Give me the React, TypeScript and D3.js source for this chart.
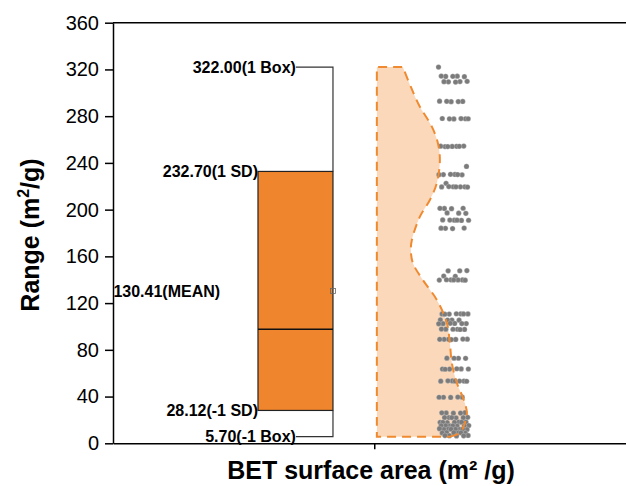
import * as d3 from "d3";
import { useEffect, useRef } from "react";

// y axis ticks
const yTicks = [0, 40, 80, 120, 160, 200, 240, 280, 320, 360];

// box statistics (m2/g)
const statValues = [322.0, 232.7, 130.41, 28.12, 5.7];
const statLabels = ["322.00(1 Box)", "232.70(1 SD)", "130.41(MEAN)", "28.12(-1 SD)", "5.70(-1 Box)"];
const medianValue = 97.6;

// half violin: density read at these levels
const violinLevels = [5.7, 8.8, 17.4, 25.9, 37.1, 51.6, 68.7, 85.9, 103, 122.7, 139.8, 154.3, 165.5, 174, 194, 208.3, 222.8, 242.5, 257, 271, 288.1, 305, 322];
const violinDensity = [0.73, 0.83, 0.88, 0.9, 0.87, 0.8, 0.75, 0.73, 0.7, 0.6, 0.46, 0.36, 0.34, 0.35, 0.43, 0.53, 0.6, 0.63, 0.61, 0.55, 0.43, 0.34, 0.26];

// individual samples
const betPoints = [
  322.0,
  314.2, 314.0, 313.8, 314.1, 314.3,
  309.6, 309.4, 309.8, 309.2, 309.5,
  292.6, 292.4, 292.8, 292.5, 292.7,
  277.8, 277.6, 278.0, 277.9, 277.7, 277.8,
  254.2, 254.0, 254.4, 254.1, 254.3, 254.2, 254.0,
  237.0,
  230.1, 230.0, 229.8, 230.2, 229.9, 230.0,
  222.5,
  219.5, 219.6, 219.4, 219.5, 219.7, 219.3, 219.5,
  201.0, 201.2, 200.8, 201.1,
  197.0, 197.2, 196.8,
  191.0, 191.2, 190.8, 191.1, 190.9, 191.0,
  184.0, 184.2, 183.8, 184.1,
  147.7, 147.6, 147.8,
  143.0, 143.2,
  139.8, 139.9, 139.7, 139.8, 140.0, 139.6, 139.8,
  110.7, 110.8, 110.6, 110.7, 110.9, 110.5, 110.7,
  105.5, 105.6, 105.4, 105.5,
  102.5, 102.6, 102.4, 102.5, 102.7, 102.3,
  97.6, 97.7, 97.5, 97.6, 97.8, 97.4,
  89.0, 89.1, 88.9, 89.0, 89.2, 88.8, 89.0,
  72.8, 72.9, 72.7, 72.8,
  63.6, 63.7, 63.5, 63.6, 63.8, 63.4,
  53.3, 53.4, 53.2, 53.3, 53.5, 53.1, 53.3,
  39.4, 39.5, 39.3, 39.4, 39.6,
  26.0, 26.2, 25.8, 26.1, 25.9,
  22.0, 22.2, 21.8, 22.1, 21.9, 22.0,
  18.0, 18.2, 17.8, 18.1, 17.9, 18.0, 18.1,
  15.0, 15.2, 14.8, 15.1, 14.9, 15.0, 15.1,
  12.0, 12.2, 11.8, 12.1, 11.9, 12.0, 12.1, 12.5,
  9.0, 9.2, 8.8, 9.1, 8.9, 9.0,
  6.5, 6.7, 6.3, 6.6, 6.4,
];

const W = 626;
const H = 486;
const font = "'Liberation Sans', Arial, Helvetica, sans-serif";

export default function App() {
  const svgRef = useRef(null);

  useEffect(() => {
    const svg = d3.select(svgRef.current).attr("width", W).attr("height", H);
    svg.selectAll("*").remove();

    const x = d3.scaleLinear().domain([0.5, 1.5]).range([113, 635.5]);
    const y = d3.scaleLinear().domain([0, 360]).range([443.3, 22.7]);
    const dens = d3.scaleLinear().domain([0, 1]).range([0, 100]);

    const [vMax, sdUp, vMean, sdDown, vMin] = statValues;
    const boxL = x(0.7775);
    const boxR = x(0.921);
    const whiskL = x(0.85);
    const meanEnd = x(0.705);
    const violinL = x(1.005);

    // violin fill
    const vData = violinLevels.map((v, i) => ({ v, d: violinDensity[i] }));
    const area = d3
      .area<{ v: number; d: number }>()
      .y((d) => y(d.v))
      .x0(violinL)
      .x1((d) => violinL + dens(d.d))
      .curve(d3.curveCatmullRom);
    svg.append("path").attr("d", area(vData)).attr("fill", "#FBD8BA").attr("stroke", "none");

    // points, spread sideways by a fixed golden-ratio step
    svg
      .append("g")
      .selectAll("circle")
      .data(betPoints)
      .enter()
      .append("circle")
      .attr("cx", (d, i) => x(1.152 + (((i * 0.618034) % 1) - 0.5) * 0.058))
      .attr("cy", (d) => y(d))
      .attr("r", 2.6)
      .attr("fill", "#7b7b7b")
      .attr("stroke", "#e0e0e0")
      .attr("stroke-width", 0.3);

    // violin outline
    svg
      .append("path")
      .attr("d", area(vData))
      .attr("fill", "none")
      .attr("stroke", "#F08A30")
      .attr("stroke-width", 2)
      .attr("stroke-dasharray", "9 6");

    // box
    svg
      .append("rect")
      .attr("x", boxL)
      .attr("y", y(sdUp))
      .attr("width", boxR - boxL)
      .attr("height", y(sdDown) - y(sdUp))
      .attr("fill", "#EF852C")
      .attr("stroke", "#222")
      .attr("stroke-width", 1.2);
    svg
      .append("line")
      .attr("x1", boxL)
      .attr("x2", boxR)
      .attr("y1", y(medianValue))
      .attr("y2", y(medianValue))
      .attr("stroke", "#111")
      .attr("stroke-width", 1.5);

    // whiskers
    svg
      .append("path")
      .attr(
        "d",
        `M${whiskL},${y(vMax)}H${boxR}V${y(sdUp)}M${boxR},${y(sdDown)}V${y(vMin)}H${whiskL}`
      )
      .attr("fill", "none")
      .attr("stroke", "#333")
      .attr("stroke-width", 1.2);

    // mean marker
    svg
      .append("rect")
      .attr("x", boxR - 2.5)
      .attr("y", y(vMean) - 2.5)
      .attr("width", 5)
      .attr("height", 5)
      .attr("fill", "none")
      .attr("stroke", "#666")
      .attr("stroke-width", 0.8);

    // stat labels
    const labelX = [whiskL, boxL, meanEnd, boxL, whiskL];
    svg
      .append("g")
      .selectAll("text")
      .data(statValues)
      .enter()
      .append("text")
      .attr("x", (d, i) => labelX[i])
      .attr("y", (d) => y(d))
      .attr("dy", "0.36em")
      .attr("text-anchor", "end")
      .attr("font-family", font)
      .attr("font-weight", "bold")
      .attr("font-size", 16)
      .text((d, i) => statLabels[i]);

    // axes
    const yAxis = svg
      .append("g")
      .attr("transform", `translate(${x(0.5)},0)`)
      .call(d3.axisLeft(y).tickValues(yTicks).tickSize(8).tickSizeOuter(0).tickPadding(6));
    yAxis.selectAll("line").attr("stroke-width", 1.5);
    yAxis.select(".domain").attr("stroke-width", 1.5);
    yAxis
      .selectAll("text")
      .attr("font-family", font)
      .attr("font-size", 20)
      .attr("fill", "#000");

    const xAxis = svg
      .append("g")
      .attr("transform", `translate(0,${y(0)})`)
      .call(d3.axisBottom(x).tickValues([1]).tickFormat(() => "").tickSize(6).tickSizeOuter(0));
    xAxis.selectAll("line").attr("stroke-width", 1.5);
    xAxis.select(".domain").attr("stroke-width", 1.5);

    svg
      .append("line")
      .attr("x1", x(0.5))
      .attr("x2", x(1.5))
      .attr("y1", y(360))
      .attr("y2", y(360))
      .attr("stroke", "#000")
      .attr("stroke-width", 1.5);

    // titles
    const yt = svg
      .append("text")
      .attr("transform", `translate(39,235) rotate(-90)`)
      .attr("text-anchor", "middle")
      .attr("font-family", font)
      .attr("font-weight", "bold")
      .attr("font-size", 25);
    yt.append("tspan").text("Range (m");
    yt.append("tspan").attr("font-size", 16).attr("dy", -10).text("2");
    yt.append("tspan").attr("dy", 10).text("/g)");

    svg
      .append("text")
      .attr("x", 371)
      .attr("y", 479)
      .attr("text-anchor", "middle")
      .attr("font-family", font)
      .attr("font-weight", "bold")
      .attr("font-size", 25)
      .text("BET surface area (m² /g)");
  }, []);

  return <svg ref={svgRef} style={{ position: "absolute", left: 0, top: 0 }}></svg>;
}
